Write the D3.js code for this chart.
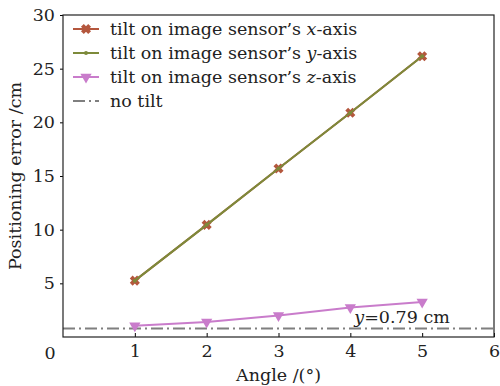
<!DOCTYPE html>
<html>
<head>
<meta charset="utf-8">
<script src="https://cdn.jsdelivr.net/npm/d3@7"></script>
<style>
  body { margin: 0; background: #fff; }
  svg { display: block; font-family: "DejaVu Serif", serif; }
</style>
</head>
<body>
<svg id="chart" width="500" height="386"></svg>
<script>
// data
const angles = [1, 2, 3, 4, 5];
const errX = [5.25, 10.45, 15.7, 20.9, 26.15];
const errY = [5.25, 10.45, 15.7, 20.9, 26.15];
const errZ = [1.05, 1.4, 2.0, 2.75, 3.25];
const noTilt = 0.79;
const xTicks = [1, 2, 3, 4, 5, 6];
const yTicks = [5, 10, 15, 20, 25, 30];
const legendLabels = [
  ["tilt on image sensor\u2019s ", "x", "-axis"],
  ["tilt on image sensor\u2019s ", "y", "-axis"],
  ["tilt on image sensor\u2019s ", "z", "-axis"],
  ["no tilt", "", ""]
];

const margin = {left: 63, right: 6, top: 15, bottom: 49};
const W = 500, H = 386;
const FS = 17.5;
const svg = d3.select("#chart");

const x = d3.scaleLinear().domain([0, 6]).range([margin.left, W - margin.right]);
const y = d3.scaleLinear().domain([0, 30]).range([H - margin.bottom, margin.top]);

const cX = "#b4573d", cY = "#7d8a3a", cZ = "#c97ccb", cN = "#7f7f7f";

// axes
svg.append("g")
  .attr("transform", "translate(0," + (H - margin.bottom) + ")")
  .call(d3.axisBottom(x).tickValues(xTicks).tickFormat(d3.format("d")).tickSizeInner(-4).tickSizeOuter(0).tickPadding(8))
  .call(g => g.select(".domain").remove())
  .call(g => g.selectAll("text").attr("font-size", FS).attr("fill", "#222").attr("font-family", "DejaVu Serif"));

svg.append("g")
  .attr("transform", "translate(" + margin.left + ",0)")
  .call(d3.axisLeft(y).tickValues(yTicks).tickFormat(d3.format("d")).tickSizeInner(3).tickSizeOuter(0).tickPadding(5))
  .call(g => g.select(".domain").remove())
  .call(g => g.selectAll("text").attr("font-size", FS).attr("fill", "#222").attr("font-family", "DejaVu Serif"));

// shared origin label
svg.append("text")
  .attr("x", x(0) - 13).attr("y", y(0) + 22)
  .attr("text-anchor", "middle").attr("font-size", FS).attr("fill", "#222")
  .text("0");

// no tilt line
svg.append("line")
  .attr("x1", x(0)).attr("x2", x(6))
  .attr("y1", y(noTilt)).attr("y2", y(noTilt))
  .attr("stroke", cN).attr("stroke-width", 2)
  .attr("stroke-dasharray", "12,4,2,4");

const line = d3.line().x((d, i) => x(angles[i])).y(d => y(d));

// x series
svg.append("path").datum(errX).attr("d", line)
  .attr("fill", "none").attr("stroke", cX).attr("stroke-width", 2);
const crossX = d3.symbol().type(d3.symbolX).size(36);
svg.selectAll(".mx").data(errX).enter().append("path")
  .attr("transform", (d, i) => "translate(" + x(angles[i]) + "," + y(d) + ")")
  .attr("d", crossX).attr("fill", "none").attr("stroke", cX).attr("stroke-width", 4);

// y series
svg.append("path").datum(errY).attr("d", line)
  .attr("fill", "none").attr("stroke", cY).attr("stroke-width", 2);
svg.selectAll(".my").data(errY).enter().append("circle")
  .attr("cx", (d, i) => x(angles[i])).attr("cy", d => y(d))
  .attr("r", 2).attr("fill", cY);

// z series
svg.append("path").datum(errZ).attr("d", line)
  .attr("fill", "none").attr("stroke", cZ).attr("stroke-width", 2);
const tri = d3.symbol().type(d3.symbolTriangle).size(55);
svg.selectAll(".mz").data(errZ).enter().append("path")
  .attr("transform", (d, i) => "translate(" + x(angles[i]) + "," + y(d) + ") rotate(180)")
  .attr("d", tri).attr("fill", cZ);

// annotation
const ann = svg.append("text")
  .attr("x", x(4.72)).attr("y", y(noTilt) - 6)
  .attr("text-anchor", "middle").attr("font-size", FS).attr("fill", "#222");
ann.append("tspan").attr("font-style", "italic").text("y");
ann.append("tspan").text("=0.79 cm");

// frame
svg.append("rect")
  .attr("x", margin.left).attr("y", margin.top)
  .attr("width", W - margin.left - margin.right)
  .attr("height", H - margin.top - margin.bottom)
  .attr("fill", "none").attr("stroke", "#222").attr("stroke-width", 1.2);

// legend
const colors = [cX, cY, cZ, cN];
const lg = svg.append("g").attr("transform", "translate(73,29)");
legendLabels.forEach((lab, i) => {
  const row = lg.append("g").attr("transform", "translate(0," + (i * 24) + ")");
  if (i < 3) {
    row.append("line").attr("x1", 0).attr("x2", 26).attr("y1", 0).attr("y2", 0)
      .attr("stroke", colors[i]).attr("stroke-width", 2);
  } else {
    row.append("line").attr("x1", 0).attr("x2", 26).attr("y1", 0).attr("y2", 0)
      .attr("stroke", cN).attr("stroke-width", 2).attr("stroke-dasharray", "12,4,2,4");
  }
  if (i === 0) row.append("path").attr("transform", "translate(13,0)").attr("d", crossX)
    .attr("fill", "none").attr("stroke", cX).attr("stroke-width", 4);
  if (i === 1) row.append("circle").attr("cx", 13).attr("r", 2).attr("fill", cY);
  if (i === 2) row.append("path").attr("transform", "translate(13,0) rotate(180)").attr("d", tri).attr("fill", cZ);
  const t = row.append("text").attr("x", 37).attr("y", 6).attr("font-size", FS).attr("fill", "#222");
  t.append("tspan").text(lab[0]);
  if (lab[1]) {
    t.append("tspan").attr("font-style", "italic").text(lab[1]);
    t.append("tspan").text(lab[2]);
  }
});

// axis titles
svg.append("text")
  .attr("x", x(3)).attr("y", H - 5)
  .attr("text-anchor", "middle").attr("font-size", FS).attr("fill", "#222")
  .text("Angle /(\u00b0)");
svg.append("text")
  .attr("transform", "translate(21," + (margin.top + (H - margin.top - margin.bottom) / 2) + ") rotate(-90)")
  .attr("text-anchor", "middle").attr("font-size", FS).attr("fill", "#222")
  .text("Positioning error /cm");
</script>
</body>
</html>
